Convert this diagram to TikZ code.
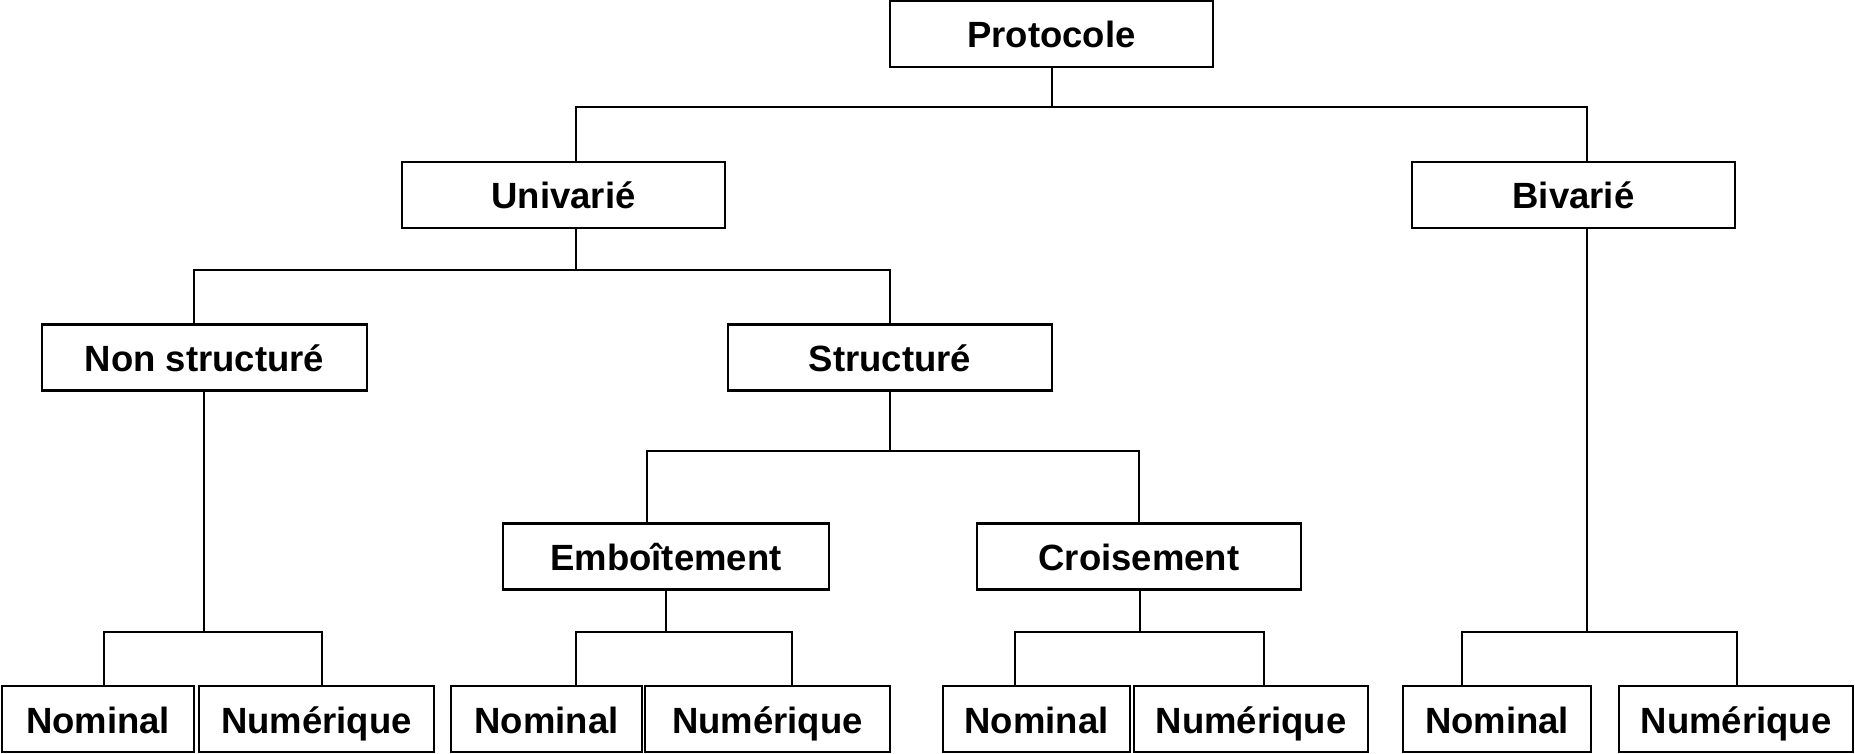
\documentclass[tikz,border=0pt]{standalone}
\usepackage{fontspec}
\setmainfont{Liberation Sans}
\begin{document}
\begin{tikzpicture}[x=1pt,y=-1pt,
  box/.style={draw,line width=2.2pt,rectangle,inner sep=0pt,outer sep=0pt,
    minimum height=66pt,text height=28pt,text depth=0pt,
    font=\fontsize{36.5}{40}\selectfont\bfseries},
  conn/.style={line width=1.8pt}]
\useasboundingbox (0,0) rectangle (1855,754);
% level 0
\node[box,minimum width=323pt] (prot) at (1051.5,34) {Protocole};
% level 1
\node[box,minimum width=323pt] (univ) at (563.5,195) {Univarié};
\node[box,minimum width=323pt] (biv) at (1573.5,195) {Bivarié};
% level 2
\node[box,minimum width=325pt] (nonstr) at (204.5,357.5) {Non structuré};
\node[box,minimum width=324pt] (struct) at (890,357.5) {Structuré};
% level 3
\node[box,minimum width=326pt] (emb) at (666,556.5) {Emboîtement};
\node[box,minimum width=324pt] (crois) at (1139,556.5) {Croisement};
% leaves
\node[box,minimum width=192pt] (n1) at (98,719) {Nominal};
\node[box,minimum width=235pt] (u1) at (316.5,719) {Numérique};
\node[box,minimum width=191pt] (n2) at (546.5,719) {Nominal};
\node[box,minimum width=245pt] (u2) at (767.5,719) {Numérique};
\node[box,minimum width=187pt] (n3) at (1036.5,719) {Nominal};
\node[box,minimum width=234pt] (u3) at (1251,719) {Numérique};
\node[box,minimum width=188pt] (n4) at (1497,719) {Nominal};
\node[box,minimum width=234pt] (u4) at (1736,719) {Numérique};
% junctions
\coordinate (jA) at (1052,107); \coordinate (aL) at (576,107); \coordinate (aR) at (1587,107);
\coordinate (jB) at (576,270); \coordinate (bL) at (194,270); \coordinate (bR) at (890,270);
\coordinate (jC) at (204,632); \coordinate (cL) at (104,632); \coordinate (cR) at (322,632);
\coordinate (jD) at (890,451); \coordinate (dL) at (647,451); \coordinate (dR) at (1139,451);
\coordinate (jE) at (666,632); \coordinate (eL) at (576,632); \coordinate (eR) at (792,632);
\coordinate (jF) at (1140,632); \coordinate (fL) at (1015,632); \coordinate (fR) at (1264,632);
\coordinate (jG) at (1587,632); \coordinate (gL) at (1462,632); \coordinate (gR) at (1737,632);
% connectors
\draw[conn] (prot.south -| jA) -- (jA);
\draw[conn] (univ.north -| aL) -- (aL) -- (aR) -- (biv.north -| aR);
\draw[conn] (univ.south -| jB) -- (jB);
\draw[conn] (nonstr.north -| bL) -- (bL) -- (bR) -- (struct.north -| bR);
\draw[conn] (nonstr.south -| jC) -- (jC);
\draw[conn] (n1.north -| cL) -- (cL) -- (cR) -- (u1.north -| cR);
\draw[conn] (struct.south -| jD) -- (jD);
\draw[conn] (emb.north -| dL) -- (dL) -- (dR) -- (crois.north -| dR);
\draw[conn] (emb.south -| jE) -- (jE);
\draw[conn] (n2.north -| eL) -- (eL) -- (eR) -- (u2.north -| eR);
\draw[conn] (crois.south -| jF) -- (jF);
\draw[conn] (n3.north -| fL) -- (fL) -- (fR) -- (u3.north -| fR);
\draw[conn] (biv.south -| jG) -- (jG);
\draw[conn] (n4.north -| gL) -- (gL) -- (gR) -- (u4.north -| gR);
\end{tikzpicture}
\end{document}
